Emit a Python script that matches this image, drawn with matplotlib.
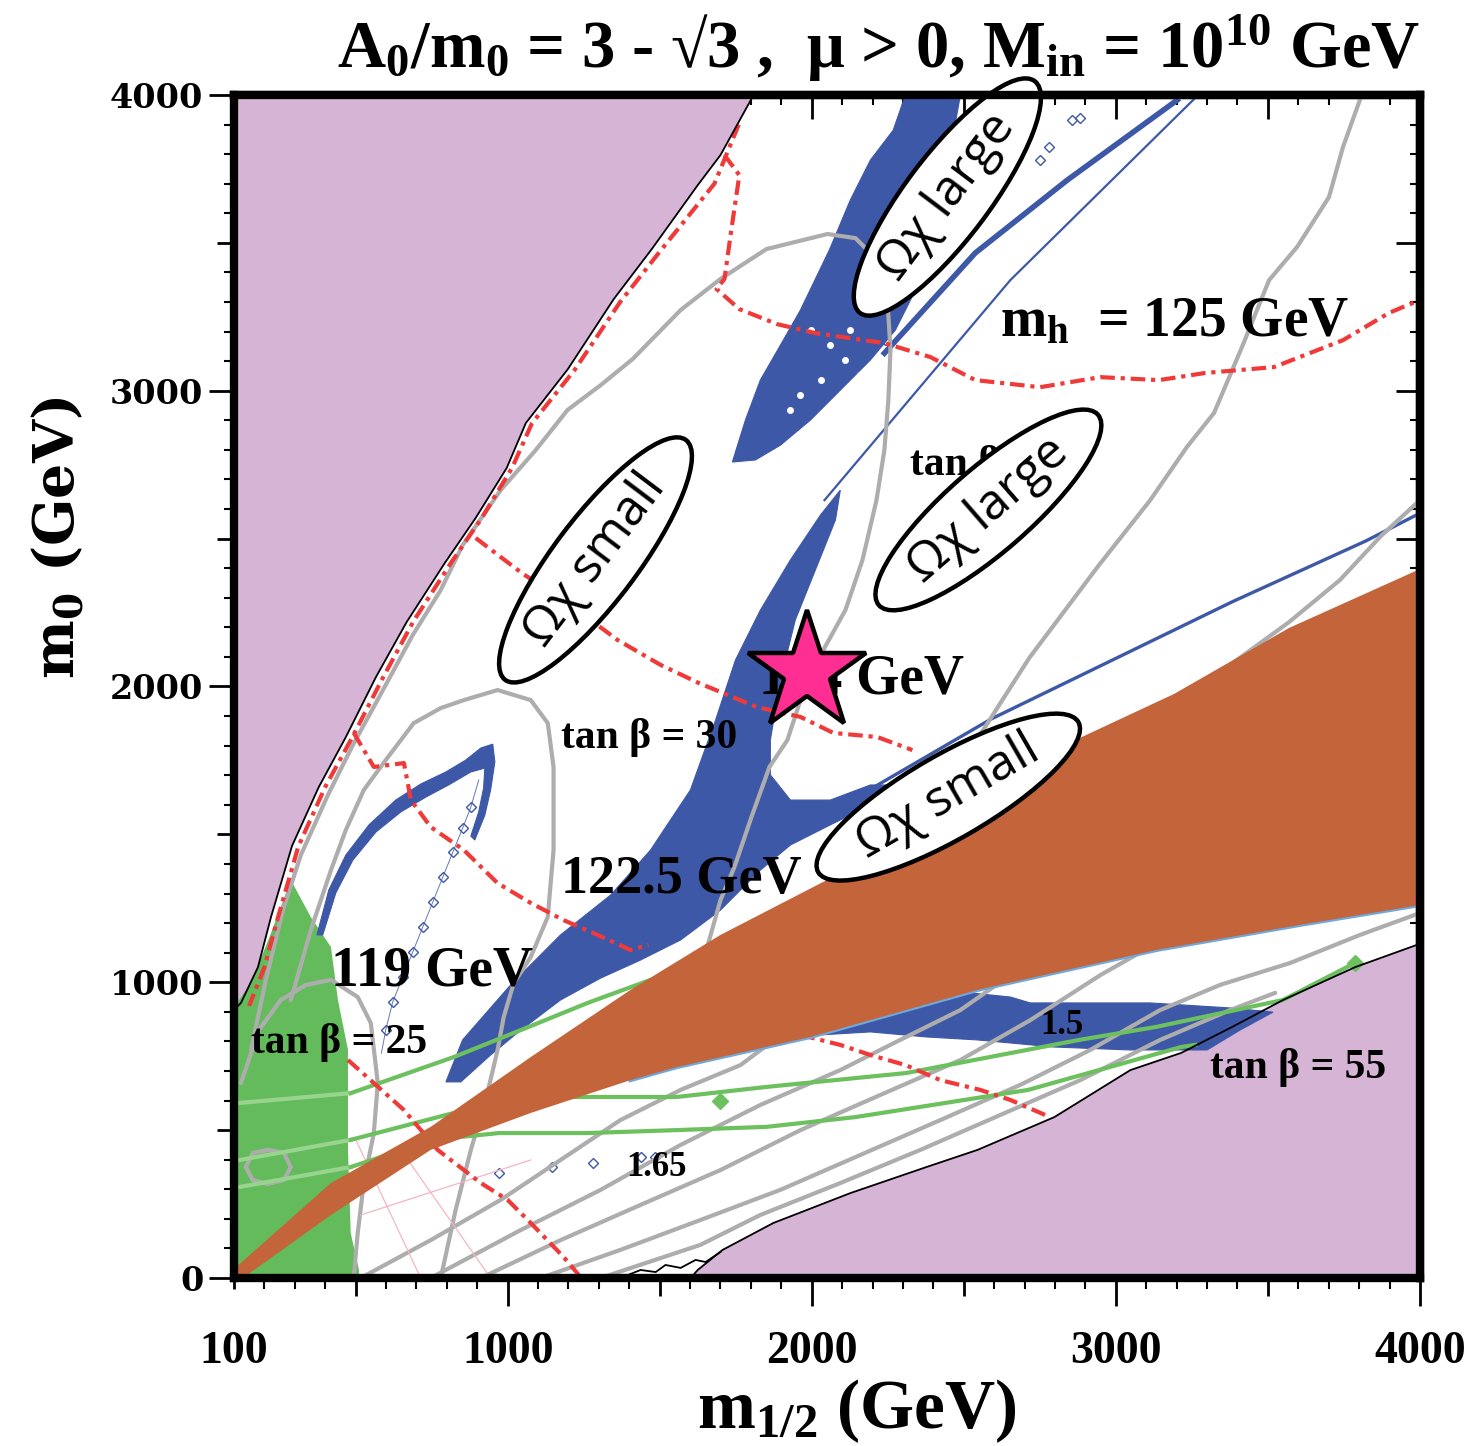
import numpy as np
import matplotlib
matplotlib.use('Agg')
import matplotlib.pyplot as plt

plt.rcParams['mathtext.fontset'] = 'custom'
plt.rcParams['mathtext.rm'] = 'Liberation Serif:bold'
plt.rcParams['mathtext.it'] = 'Liberation Serif:bold'
plt.rcParams['mathtext.bf'] = 'Liberation Serif:bold'

# ---------------- data (GeV) ----------------
# upper-left excluded (purple) region boundary
ul_x = [1815, 1805, 1700, 1625, 1474, 1349, 1198, 1060, 997, 895, 793, 668, 567, 468, 379, 291, 222, 179, 123, 100]
ul_y = [4000, 3993, 3797, 3695, 3479, 3310, 3073, 2891, 2739, 2570, 2417, 2218, 2032, 1829, 1660, 1461, 1221, 1051, 930, 906]
# lower-right excluded (purple) region boundary
lr_x = [1602, 1625, 1707, 1874, 2127, 2377, 2545, 2798, 3048, 3215, 3383, 3550, 3787, 4000]
lr_y = [0, 27, 95, 186, 287, 375, 433, 544, 703, 761, 849, 940, 1051, 1130]
# orange band
or_top_x = [100, 419, 747, 1076, 1404, 1700, 2062, 2565, 2867, 3192, 3570, 4000]
or_top_y = [30, 321, 511, 747, 974, 1160, 1352, 1647, 1819, 1975, 2198, 2397]
or_bot_x = [130, 419, 747, 1076, 1404, 1556, 1996, 2545, 3133, 3606, 4000]
or_bot_y = [0, 213, 433, 558, 669, 713, 815, 974, 1109, 1194, 1261]
# green region
gr_x = [100, 156, 222, 287, 353, 419, 442, 475, 475, 484, 511, 511, 100]
gr_y = [916, 997, 1166, 1346, 1220, 1119, 940, 771, 433, 152, 27, 0, 0]
# blue regions
bs_x = [797, 852, 1010, 1174, 1339, 1470, 1601, 1684, 1749, 1831, 1930, 2029, 2094, 2078, 2012, 1946, 1897, 1864,
        1864, 1930, 2061, 2193, 2259, 2193, 2061, 1930, 1831, 1700, 1569, 1437, 1306, 1174, 1043, 944, 846]
bs_y = [663, 805, 991, 1160, 1295, 1447, 1650, 1887, 2089, 2258, 2428, 2580, 2664, 2563, 2394, 2225, 2022, 1819,
        1701, 1616, 1616, 1667, 1667, 1599, 1532, 1464, 1379, 1244, 1143, 1075, 1014, 940, 838, 754, 663]
ub_x = [1739, 1782, 1831, 1897, 1963, 2058, 2127, 2193, 2268, 2308, 2489, 2456, 2406, 2341, 2275, 2193, 2094, 1996, 1897, 1815]
ub_y = [2759, 2901, 3036, 3154, 3273, 3476, 3645, 3780, 3881, 4000, 4000, 3814, 3577, 3340, 3205, 3104, 3002, 2901, 2816, 2766]
cr_x = [373, 412, 468, 544, 632, 714, 797, 862, 912, 951, 958, 944, 925, 892,
        879, 905, 921, 925, 879, 806, 731, 649, 567, 491, 435, 392]
cr_y = [1160, 1312, 1430, 1532, 1616, 1670, 1711, 1751, 1792, 1805, 1745, 1650, 1565, 1481,
        1494, 1576, 1657, 1724, 1711, 1667, 1626, 1576, 1508, 1413, 1302, 1160]
lb_x = [1930, 2061, 2193, 2357, 2521, 2653, 2719, 2883, 3113, 3376, 3517, 3408, 3300, 3047, 2797, 2544, 2377, 2193, 2029]
lb_y = [838, 889, 933, 957, 964, 950, 930, 930, 930, 913, 899, 838, 771, 771, 781, 805, 815, 832, 822]
bl1_x = [2042, 2653, 3264]
bl1_y = [2630, 3374, 3993]
bb1_x = [2239, 2538, 2840, 3202]
bb1_y = [3127, 3466, 3712, 3983]
bl2_x = [2160, 2590, 3382, 3822, 4000]
bl2_y = [1633, 1890, 2286, 2492, 2586]
# thin wiggly blue line inside the left loop
bw_x = [905, 879, 852, 820, 787, 754, 721, 688, 655, 622, 599, 585]
bw_y = [1684, 1592, 1521, 1440, 1356, 1271, 1187, 1102, 1018, 933, 838, 760]
# open blue diamonds
bd_x = [879, 852, 820, 787, 754, 721, 688, 655, 622, 599, 971, 1145, 1280, 1440, 1483, 2857, 2883, 2781, 2751, 2193, 2242, 2160]
bd_y = [1592, 1521, 1440, 1356, 1271, 1187, 1102, 1018, 933, 838, 355, 375, 389, 409, 409, 3915, 3922, 3824, 3780, 3205, 3171, 3121]
# white holes in upper blue patch
wd_x = [1996, 2061, 2111, 2029, 1963, 1930, 2127, 2160]
wd_y = [3205, 3154, 3104, 3036, 2985, 2935, 3205, 3053]

# grey tan(beta) contours
ga_x = [156, 205, 261, 320, 409, 491, 590, 688, 780, 852, 977, 1092, 1197, 1306, 1411, 1569, 1700, 1851, 2052, 2144,
        2209, 2249, 2259, 2252, 2239, 2213, 2167, 2111, 2038, 1963, 1920, 1861, 1802, 1746, 1700, 1635]
ga_y = [771, 1008, 1244, 1430, 1633, 1802, 1988, 2174, 2326, 2478, 2664, 2799, 2935, 3019, 3107, 3273, 3378, 3479, 3530, 3516,
        3449, 3307, 3138, 2969, 2800, 2630, 2428, 2259, 2123, 1954, 1819, 1728, 1559, 1390, 1278, 1041]
gb_x = [287, 353, 419, 468, 527, 599, 691, 780, 856, 967, 1076, 1132, 1151, 1151, 1151, 1132, 1076, 1020, 987, 967, 928, 879, 829, 780]
gb_y = [940, 1177, 1379, 1515, 1650, 1751, 1876, 1927, 1954, 1988, 1954, 1876, 1728, 1582, 1447, 1221, 1085, 997, 882, 771, 602, 433, 230, 0]
gc_x = [123, 182, 254, 337, 419, 507, 550, 573, 560, 527, 507, 494]
gc_y = [659, 838, 940, 991, 1008, 950, 862, 659, 490, 321, 152, 3]
gl_x = [139, 162, 212, 264, 287, 264, 212, 162, 139]
gl_y = [375, 423, 433, 423, 375, 331, 318, 331, 375]
gr1_x = [3806, 3747, 3701, 3596, 3504, 3415, 3323, 3234, 3113, 2942, 2715, 2564, 2377, 2186, 2061, 1897]
gr1_y = [3993, 3824, 3655, 3486, 3374, 3148, 2925, 2810, 2630, 2407, 2096, 1853, 1613, 1407, 1335, 1227]
r1_x = [3376, 3570, 3737, 3872, 4000]
r1_y = [2073, 2218, 2360, 2509, 2630]
fa_x = [517, 747, 977, 1174, 1371, 1569, 1766, 1963]
fa_y = [0, 128, 264, 399, 534, 636, 720, 872]
fb_x = [747, 1043, 1306, 1569, 1831, 2094, 2291, 2489, 2653]
fb_y = [0, 162, 298, 450, 585, 703, 805, 906, 1024]
fc_x = [912, 1174, 1437, 1700, 1963, 2226, 2489, 2719, 2949, 3211]
fc_y = [0, 128, 247, 365, 500, 619, 737, 872, 1024, 1177]
fd_x = [1109, 1371, 1634, 1897, 2160, 2423, 2686, 2916, 3146, 3343, 3573, 3803, 4000]
fd_y = [0, 95, 196, 298, 416, 534, 653, 771, 906, 991, 1065, 1160, 1234]
fe_x = [1306, 1634, 1831, 2094, 2357, 2620, 2883, 3146, 3376, 3524]
fe_y = [0, 112, 213, 321, 433, 551, 669, 805, 906, 964]
# faint pink lines
p1_x = [501, 714]; p1_y = [467, 0]
p2_x = [649, 944]; p2_y = [433, 0]
p3_x = [517, 1076]; p3_y = [213, 399]

# green lines (split: inside green region / outside)
g1a_x = [120, 484]; g1a_y = [592, 625]
g1b_x = [484, 823, 1043, 1263, 1470]; g1b_y = [625, 747, 838, 930, 1008]
g2a_x = [120, 484]; g2a_y = [399, 467]
g2b_x = [484, 823, 1191, 1556, 1851, 2311, 2880, 3133, 3550, 3786]
g2b_y = [467, 558, 612, 612, 646, 693, 805, 849, 940, 1065]
g3a_x = [120, 484]; g3a_y = [308, 375]
g3b_x = [484, 751, 971, 1263, 1556, 1851, 2144, 2712, 3215, 3261]
g3b_y = [375, 467, 490, 490, 500, 511, 544, 636, 781, 788]
gdm_x = [1700, 3786]; gdm_y = [597, 1065]

# red dash-dot m_h contours
h1_x = [1713, 1762, 1736, 1713, 1687, 1762, 1887, 2012, 2239, 2390, 2538, 2751, 2949, 3142, 3293, 3520, 3747, 3898, 4000]
h1_y = [3797, 3729, 3547, 3378, 3344, 3276, 3225, 3195, 3161, 3114, 3036, 3012, 3046, 3036, 3060, 3080, 3171, 3263, 3307]
h2_x = [895, 1046, 1207, 1362, 1503, 1628, 1818, 1963, 2071, 2216, 2331]
h2_y = [2502, 2384, 2275, 2157, 2073, 2012, 1931, 1897, 1843, 1829, 1785]
h3_x = [494, 560, 659, 682, 747, 856, 967, 1076, 1184, 1296, 1404, 1463]
h3_y = [1843, 1728, 1741, 1616, 1525, 1447, 1335, 1268, 1210, 1160, 1109, 1126]
h4_x = [475, 560, 659, 770, 912, 1000, 1076, 1184, 1234]
h4_y = [737, 659, 568, 433, 321, 264, 186, 71, 10]
h5_x = [1963, 2094, 2193, 2308, 2423, 2554, 2653, 2768]
h5_y = [822, 788, 754, 720, 669, 636, 602, 551]
hb_x = [1760, 1680, 1500, 1370, 1220, 1080, 1015, 915, 815, 690, 590, 490, 400, 312, 245, 200, 150]
hb_y = [3900, 3700, 3470, 3300, 3070, 2890, 2740, 2570, 2420, 2220, 2030, 1830, 1660, 1460, 1220, 1050, 920]
# black squiggle near lower boundary
sq_x = [1371, 1437, 1487, 1519, 1569, 1618, 1651, 1700]
sq_y = [0, 27, 20, 44, 34, 61, 54, 88]

star_x = [1986]; star_y = [2049]

x_major = [100, 500, 1000, 1500, 2000, 2500, 3000, 3500, 4000]
x_labels = ['100', '', '1000', '', '2000', '', '3000', '', '4000']
y_major = [0, 500, 1000, 1500, 2000, 2500, 3000, 3500, 4000]
y_labels = ['0', '', '1000', '', '2000', '', '3000', '', '4000']

# ---------------- styles ----------------
PURPLE = '#D5B4D5'
ORANGE = '#C3643A'
GREEN = '#64BB5C'
BLUE = '#3E58A8'
GREY = '#ADADAD'
RED = '#F03A3A'
GLINE = '#6CC05E'
GLINE_L = '#98D48E'
DASHDOT = (0, (3.5, 1.4, 1.0, 1.4))

fig = plt.figure(figsize=(14.76, 14.46), dpi=100)
ax = fig.add_axes([0.1585, 0.1162, 0.8035, 0.8181])
ax.set_xlim(100, 4000)
ax.set_ylim(0, 4000)

# purple regions
ax.fill(ul_x + [100], ul_y + [4000], color=PURPLE, lw=0, zorder=1)
ax.fill(lr_x + [4000], lr_y + [0], color=PURPLE, lw=0, zorder=1)
ax.plot(ul_x[1:], ul_y[1:], color='black', lw=1.3, zorder=7)
ax.plot(lr_x, lr_y, color='black', lw=1.3, zorder=7)
ax.plot(sq_x, sq_y, color='black', lw=1.3, zorder=7)

# green region
ax.fill(gr_x, gr_y, color=GREEN, lw=0, zorder=2)

# blue regions
for xs, ys in [(bs_x, bs_y), (ub_x, ub_y), (cr_x, cr_y), (lb_x, lb_y)]:
    ax.fill(xs, ys, color=BLUE, lw=0.8, ec=BLUE, zorder=3)
ax.plot(bl1_x, bl1_y, color=BLUE, lw=1.6, zorder=3)
ax.plot(bb1_x, bb1_y, color=BLUE, lw=4.0, zorder=3)
ax.plot(bl2_x, bl2_y, color=BLUE, lw=2.4, zorder=3)
ax.plot(bw_x, bw_y, color=BLUE, lw=0.7, alpha=0.8, zorder=3)
ax.plot(bd_x, bd_y, ls='none', marker='D', ms=5, mfc='none', mec=BLUE, mew=1.0, zorder=3)
ax.plot(wd_x, wd_y, ls='none', marker='o', ms=4, mfc='white', mec='white', zorder=3.1)

# grey contours
for xs, ys in [(ga_x, ga_y), (gb_x, gb_y), (gc_x, gc_y), (gl_x, gl_y), (gr1_x, gr1_y), (r1_x, r1_y),
               (fa_x, fa_y), (fb_x, fb_y), (fc_x, fc_y), (fd_x, fd_y), (fe_x, fe_y)]:
    ax.plot(xs, ys, color=GREY, lw=3.0, zorder=4, solid_capstyle='round')
for xs, ys in [(p1_x, p1_y), (p2_x, p2_y), (p3_x, p3_y)]:
    ax.plot(xs, ys, color='#F4B6C0', lw=0.9, zorder=4)

# green lines
for xs, ys in [(g1a_x, g1a_y), (g2a_x, g2a_y), (g3a_x, g3a_y)]:
    ax.plot(xs, ys, color=GLINE_L, lw=3.0, zorder=5)
for xs, ys in [(g1b_x, g1b_y), (g2b_x, g2b_y), (g3b_x, g3b_y)]:
    ax.plot(xs, ys, color=GLINE, lw=3.0, zorder=5)
ax.plot(gdm_x, gdm_y, ls='none', marker='D', ms=8, color=GLINE, zorder=5)

# red m_h contours
for xs, ys in [(h1_x, h1_y), (h2_x, h2_y), (h3_x, h3_y), (h4_x, h4_y), (h5_x, h5_y), (hb_x, hb_y)]:
    ax.plot(xs, ys, color=RED, lw=3.0, ls=DASHDOT, zorder=5.5)

# orange band
ax.plot(or_bot_x[4:], or_bot_y[4:], color='#6FA8DC', lw=3, zorder=5.8)
ax.fill(or_top_x + or_bot_x[::-1] + [100], or_top_y + or_bot_y[::-1] + [0], color=ORANGE, lw=0, zorder=6)

# labels in plot
serif = 'Liberation Serif'
lab = dict(fontfamily=serif, fontweight='bold', color='black', zorder=8)
ax.text(2620, 3232, r'$\mathrm{m_h}$  = 125 GeV', fontsize=40, ha='left', va='center', **lab)
ax.text(1174, 1346, '122.5 GeV', fontsize=39, ha='left', va='center', **lab)
ax.text(419, 1035, '119 GeV', fontsize=40, ha='left', va='center', **lab)
ax.text(1825, 2022, '124 GeV', fontsize=40, ha='left', va='center', **lab)
ax.text(1174, 1829, 'tan β = 30', fontsize=30, ha='left', va='center', **lab)
ax.text(156, 795, 'tan β = 25', fontsize=30, ha='left', va='center', **lab)
ax.text(3310, 710, 'tan β = 55', fontsize=30, ha='left', va='center', **lab)
ax.text(2324, 2749, 'tan β = 40', fontsize=30, ha='left', va='center', **lab)
ax.text(2824, 855, '1.5', fontsize=25, ha='center', va='center', **lab)
ax.text(1490, 372, '1.65', fontsize=25, ha='center', va='center', **lab)

# ellipse annotations
ell = dict(fontfamily=['Open Sans', 'DejaVu Sans'], fontsize=36, ha='center', va='center', zorder=9,
           rotation_mode='anchor',
           bbox=dict(boxstyle='ellipse,pad=0.1', fc='white', ec='black', lw=3.2))
ax.text(2446, 3655, 'Ωχ large', rotation=53, **ell)
ax.text(1289, 2428, 'Ωχ small', rotation=53, **ell)
ax.text(2581, 2597, 'Ωχ large', rotation=41, **ell)
ax.text(2449, 1626, 'Ωχ small', rotation=30, **ell)

# star
ax.plot(star_x, star_y, ls='none', marker='*', ms=90, mfc='#FF2E92', mec='black', mew=3.2, zorder=10)

# axes, ticks
for s in ax.spines.values():
    s.set_linewidth(6)
    s.set_zorder(11)
ax.set_xticks(x_major)
ax.set_xticklabels(x_labels)
ax.set_xticks(np.arange(100, 4001, 100), minor=True)
ax.set_yticks(y_major)
ax.set_yticklabels(y_labels)
ax.set_yticks(np.arange(0, 4001, 100), minor=True)
ax.tick_params(axis='x', which='major', direction='out', length=20, width=2, top=False, pad=18)
ax.tick_params(axis='x', which='minor', direction='out', length=8, width=1.5, top=False)
ax.tick_params(axis='y', which='major', direction='out', length=18, width=2, right=False, pad=4)
ax.tick_params(axis='y', which='minor', direction='out', length=7, width=1.5, right=False)
for lbl in ax.get_xticklabels():
    lbl.set_fontfamily(serif); lbl.set_fontweight('bold'); lbl.set_fontsize(33)
for lbl in ax.get_yticklabels():
    lbl.set_fontfamily('DejaVu Serif'); lbl.set_fontweight('bold'); lbl.set_fontsize(24)
for t, v in zip(ax.xaxis.get_major_ticks(), x_major):
    if v % 1000 == 500:
        t.tick1line.set_markersize(13)
    if v == 100:
        t.tick1line.set_markersize(8)
for t, v in zip(ax.yaxis.get_major_ticks(), y_major):
    if v % 1000 == 500:
        t.tick1line.set_markersize(12)

top = ax.secondary_xaxis('top')
top.set_xticks(x_major)
top.set_xticklabels([])
top.set_xticks(np.arange(100, 4001, 100), minor=True)
top.tick_params(which='major', direction='in', length=17, width=2)
top.tick_params(which='minor', direction='in', length=7, width=1.5)
top.spines['top'].set_linewidth(6)
right = ax.secondary_yaxis('right')
right.set_yticks(y_major)
right.set_yticklabels([])
right.set_yticks(np.arange(0, 4001, 100), minor=True)
right.tick_params(which='major', direction='in', length=17, width=2)
right.tick_params(which='minor', direction='in', length=7, width=1.5)
right.spines['right'].set_linewidth(6)

# axis titles and header
fig.text(857 / 1476, 1 - 1428 / 1446, r'$\mathrm{m_{1/2}}$ (GeV)', fontfamily=serif, fontweight='bold',
         fontsize=50, ha='center', va='baseline')
fig.text(58 / 1476, 1 - 538 / 1446, r'$\mathbf{m_0}$ (GeV)', fontfamily='DejaVu Serif', fontweight='bold',
         fontsize=40, ha='center', va='center', rotation=90, math_fontfamily='dejavuserif')
fig.text(1420 / 1476, 1 - 68 / 1446, r'$\mathrm{A_0/m_0}$ = 3 - √3 ,  μ > 0, $\mathrm{M_{in}}$ = $\mathrm{10^{10}}$ GeV',
         fontfamily=serif, fontweight='bold', fontsize=48, ha='right', va='baseline')

fig.savefig('out.png', dpi=100)
